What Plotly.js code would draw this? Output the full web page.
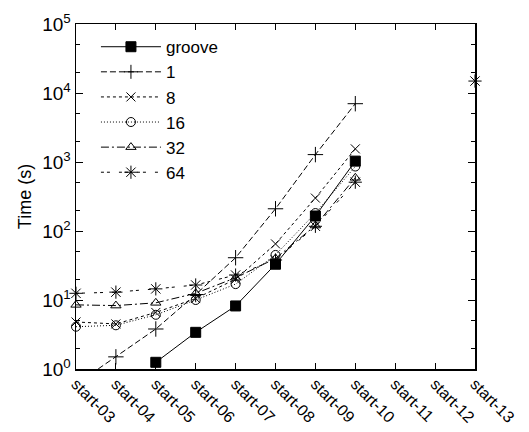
<!DOCTYPE html>
<html>
<head>
<meta charset="utf-8">
<script src="https://cdn.plot.ly/plotly-3.0.1.min.js"></script>
<style>html,body{margin:0;padding:0;background:#fff;}#chart{width:529px;height:432px;}</style>
</head>
<body>
<div id="chart"></div>
<script>
const categories = ['start-03','start-04','start-05','start-06','start-07','start-08','start-09','start-10','start-11','start-12','start-13'];
const seriesNames = ['groove','1','8','16','32','64'];
const groove = [null, null, 1.25, 3.4, 8.2, 33, 165, 1030, null, null, null];
const s1     = [0.6, 1.5, 3.8, 12, 41, 210, 1280, 7000, null, null, null];
const s8     = [4.8, 4.5, 6.6, 10.5, 20, 65, 300, 1550, null, null, null];
const s16    = [4.1, 4.3, 6.1, 10, 17, 45, 182, 860, null, null, null];
const s32    = [8.5, 8.3, 9.1, 12.5, 21, 40, 120, 590, null, null, null];
const s64    = [12.5, 13, 14.5, 16.5, 23, 38, 117, 510, null, null, 14900];
const yTickVals = [1, 10, 100, 1000, 10000, 100000];
const yTickText = ['10<sup>0</sup>','10<sup>1</sup>','10<sup>2</sup>','10<sup>3</sup>','10<sup>4</sup>','10<sup>5</sup>'];

const values = [groove, s1, s8, s16, s32, s64];
const styles = [
  {dash:'solid', symbol:'square', size:10},
  {dash:'6px,3px', symbol:'cross-thin-open', size:11},
  {dash:'3px,3px', symbol:'x-thin-open', size:9},
  {dash:'1px,2px', symbol:'circle-open', size:9},
  {dash:'8px,3px,2px,3px', symbol:'triangle-up-open', size:9},
  {dash:'3px,3px,3px,9px', symbol:'asterisk-open', size:11}
];

const traces = values.map((v, i) => {
  const st = styles[i];
  // hide the marker of a point that lies below the visible range
  const sizes = v.map(y => (y !== null && y < 1) ? 0 : st.size);
  return {
    type: 'scatter', mode: 'lines+markers',
    x: categories, y: v, name: seriesNames[i],
    connectgaps: false, cliponaxis: false,
    line: {color: '#000', width: 1, dash: st.dash},
    marker: {symbol: st.symbol, size: sizes, color: '#000', opacity: 1, line: {color: '#000', width: 1}}
  };
});

const layout = {
  width: 529, height: 432,
  margin: {l: 76, r: 54, t: 24, b: 63},
  paper_bgcolor: '#fff', plot_bgcolor: '#fff',
  font: {family: '"Liberation Sans", Arial, sans-serif', size: 17, color: '#000'},
  showlegend: true,
  legend: {x: 0.05, y: 0.985, xanchor: 'left', yanchor: 'top', bgcolor: 'rgba(0,0,0,0)',
           font: {size: 17}, itemwidth: 60, tracegroupgap: 0},
  xaxis: {
    type: 'category', range: [0, 10], tickangle: 45,
    showline: true, linecolor: '#000', linewidth: 1.5, mirror: 'ticks',
    ticks: 'inside', ticklen: 6, tickcolor: '#000', showgrid: false, zeroline: false,
    tickfont: {size: 16}, ticklabelstandoff: -2
  },
  yaxis: {
    type: 'log', range: [0, 5],
    tickvals: yTickVals, ticktext: yTickText,
    showline: true, linecolor: '#000', linewidth: 1.5, mirror: 'ticks',
    ticks: 'inside', ticklen: 7, tickcolor: '#000', showgrid: false, zeroline: false,
    minor: {ticks: 'inside', ticklen: 4, tickcolor: '#000', dtick: 'D2', showgrid: false},
    tickfont: {size: 19},
    title: {text: 'Time (s)', font: {size: 18}, standoff: 6}
  }
};

Plotly.newPlot('chart', traces, layout, {displayModeBar: false, staticPlot: true});
</script>
</body>
</html>
